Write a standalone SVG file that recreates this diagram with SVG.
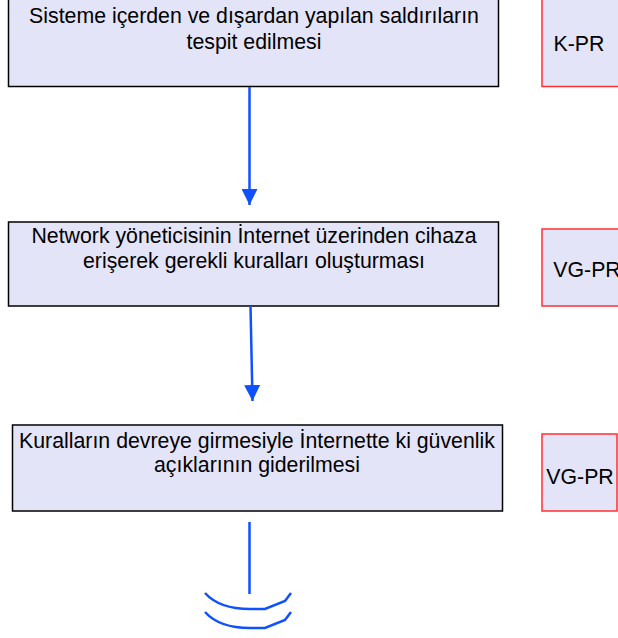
<svg xmlns="http://www.w3.org/2000/svg" width="618" height="638" viewBox="0 0 618 638">
<style>
.box{fill:#E4E4F8;stroke:#000;stroke-width:1.5}
.tag{fill:#E4E4F8;stroke:#FF3030;stroke-width:1.5}
.t{font-family:"Liberation Sans",Arial,sans-serif;font-size:21.3px;fill:#000;text-anchor:middle}
.c{fill:none;stroke:#0F50FF;stroke-width:2.5}
</style>
<defs>
<marker id="ah" viewBox="0 0 16 16" refX="16" refY="8" markerWidth="16" markerHeight="16" markerUnits="userSpaceOnUse" orient="auto">
<path d="M0,0 L16,8 L0,16 Z" fill="#0F50FF"/>
</marker>
</defs>
<g id="n1">
<rect class="box" x="8.5" y="-2" width="490" height="88.5"/>
<text class="t" x="254" y="23">Sisteme içerden ve dışardan yapılan saldırıların</text>
<text class="t" x="254" y="49">tespit edilmesi</text>
</g>
<g id="n1tag">
<rect class="tag" x="542" y="-2" width="80" height="88.5"/>
<text class="t" x="579" y="51">K-PR</text>
</g>
<g id="n2">
<rect class="box" x="8.5" y="222" width="490" height="84"/>
<text class="t" x="254" y="243">Network yöneticisinin İnternet üzerinden cihaza</text>
<text class="t" x="254" y="268">erişerek gerekli kuralları oluşturması</text>
</g>
<g id="n2tag">
<rect class="tag" x="542" y="229" width="80" height="77"/>
<text class="t" x="587" y="277">VG-PR</text>
</g>
<g id="n3">
<rect class="box" x="12.5" y="425" width="490" height="86"/>
<text class="t" x="257" y="448">Kuralların devreye girmesiyle İnternette ki güvenlik</text>
<text class="t" x="257" y="472">açıklarının giderilmesi</text>
</g>
<g id="n3tag">
<rect class="tag" x="542" y="434" width="75" height="77"/>
<text class="t" x="580" y="484">VG-PR</text>
</g>
<g id="connectors">
<line class="c" x1="249.5" y1="87" x2="249.5" y2="205" marker-end="url(#ah)"/>
<line class="c" x1="250.5" y1="306" x2="252.5" y2="401" marker-end="url(#ah)"/>
<line class="c" x1="249.5" y1="522" x2="249.5" y2="594"/>
<path class="c" d="M205,593 C214,603 228,609 250,609 L265,609 L285,601 L291,593"/>
<path class="c" d="M205,612 C214,622 228,628 250,628 L265,628 L285,620 L291,612"/>
</g>
</svg>
